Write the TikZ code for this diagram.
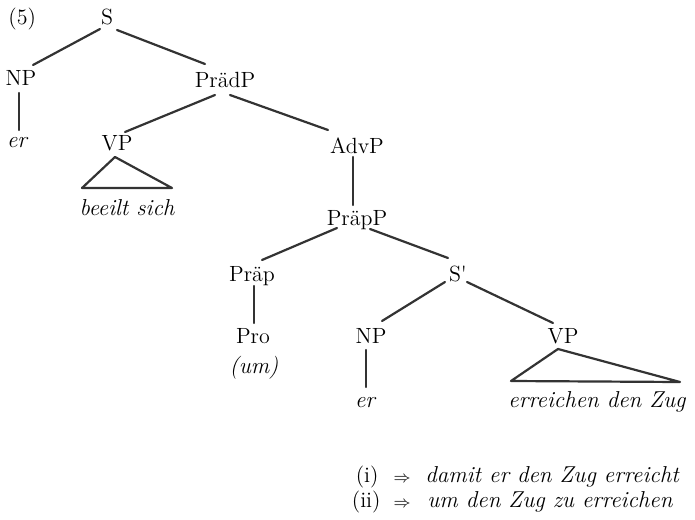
\documentclass[tikz,border=0pt]{standalone}
\newcommand\treeup{\fontsize{11}{13}\selectfont}
\newcommand\treeit{\fontsize{11.5}{13}\selectfont\itshape}
\begin{document}
\begin{tikzpicture}[x=0.5pt,y=-0.5pt,
  lbl/.style={inner sep=0pt, anchor=base, font=\treeup},
  leaf/.style={inner sep=0pt, anchor=base, font=\treeit},
  edge/.style={line width=1.1pt, draw=black!80, line cap=round, line join=round}]
\useasboundingbox (0,0) rectangle (695,519);

% category labels and leaves
\node[lbl, anchor=base west] (num) at (8,25) {(5)};
\node[lbl] (S) at (107,25) {S};
\node[lbl] (NPa) at (21,86) {NP};
\node[lbl] (PraedP) at (225,88) {PrädP};
\node[leaf] (era) at (17,148) {er};
\node[lbl] (VPa) at (117,150) {VP};
\node[lbl] (AdvP) at (357,153) {AdvP};
\node[leaf] (beeilt) at (127,215) {beeilt sich};
\node[lbl] (PraepP) at (357,225) {PräpP};
\node[lbl] (Praep) at (252,281) {Präp};
\node[lbl] (Sbar) at (458,281) {S\textquotesingle};
\node[lbl] (Pro) at (253,343) {Pro};
\node[leaf] (um) at (254,373) {(um)};
\node[lbl] (NPb) at (371,343) {NP};
\node[lbl] (VPb) at (563,343) {VP};
\node[leaf] (erb) at (365,407) {er};
\node[leaf] (erreichen) at (597,407) {erreichen den Zug};

% branches
\draw[edge] ([shift={(-7,4)}]S.base) -- ([shift={(12,-21)}]NPa.base);
\draw[edge] ([shift={(10,5)}]S.base) -- ([shift={(-20,-24)}]PraedP.base);
\draw[edge] ([shift={(-2,7)}]NPa.base) -- ([shift={(2,-18)}]era.base);
\draw[edge] ([shift={(-10,7)}]PraedP.base) -- ([shift={(8,-18)}]VPa.base);
\draw[edge] ([shift={(5,7)}]PraedP.base) -- ([shift={(-29,-23)}]AdvP.base);
\draw[edge] ([shift={(-2,7)}]VPa.base) -- ([shift={(-45,-27)}]beeilt.base)
            -- ([shift={(45,-27)}]beeilt.base) -- cycle;
\draw[edge] ([shift={(-4,4)}]AdvP.base) -- ([shift={(-4,-20)}]PraepP.base);
\draw[edge] ([shift={(-20,3)}]PraepP.base) -- ([shift={(10,-21)}]Praep.base);
\draw[edge] ([shift={(13,4)}]PraepP.base) -- ([shift={(-10,-23)}]Sbar.base);
\draw[edge] ([shift={(2,5)}]Praep.base) -- ([shift={(1,-20)}]Pro.base);
\draw[edge] ([shift={(-13,1)}]Sbar.base) -- ([shift={(11,-22)}]NPb.base);
\draw[edge] ([shift={(9,1)}]Sbar.base) -- ([shift={(-10,-20)}]VPb.base);
\draw[edge] ([shift={(-5,7)}]NPb.base) -- ([shift={(1,-20)}]erb.base);
\draw[edge] ([shift={(-5,6)}]VPb.base) -- ([shift={(-86,-26)}]erreichen.base)
            -- ([shift={(83,-25)}]erreichen.base) -- cycle;

% paraphrases
\node[lbl, anchor=base east] (ia) at (379,482) {(i)};
\node[lbl] (iarr) at (402,482) {\footnotesize$\Rightarrow$};
\node[leaf, anchor=base west] (itext) at (425,482) {damit er den Zug erreicht};
\node[lbl, anchor=base east] (iia) at (381,507) {(ii)};
\node[lbl] (iiarr) at (402,507) {\footnotesize$\Rightarrow$};
\node[leaf, anchor=base west] (iitext) at (427,507) {um den Zug zu erreichen};
\end{tikzpicture}
\end{document}
